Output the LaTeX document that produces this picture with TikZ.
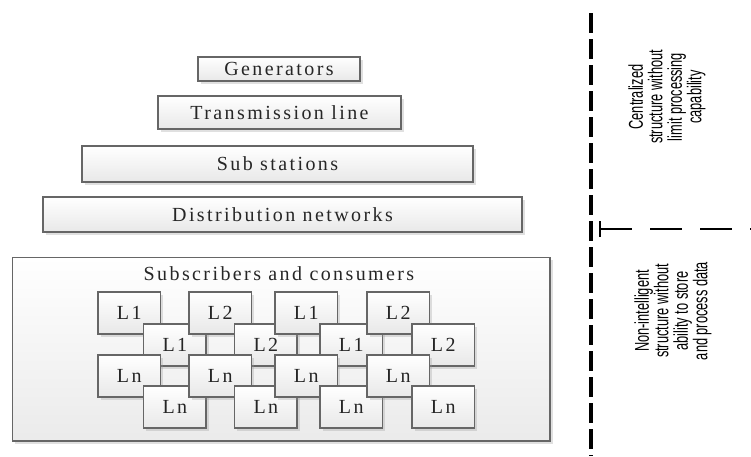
\documentclass[tikz,border=0pt]{standalone}
\usepackage{fontspec}
\setmainfont{Liberation Serif}
\newfontfamily\boxfont[LetterSpace=12]{Liberation Serif}
\newfontfamily\notefont[FakeStretch=0.64]{Liberation Sans}
\newcommand\notesize{\notefont\fontsize{20}{19.5}\selectfont}
\usetikzlibrary{shadows}
\begin{document}
\begin{tikzpicture}[x=1pt,y=-1pt,
  shaded/.style={draw=black!60, line width=1.3pt, top color=white, bottom color=black!9,
    drop shadow={shadow xshift=2.5pt, shadow yshift=-2.5pt, opacity=0.3, fill=black!40}},
  layer/.style={shaded, inner sep=0pt, font=\boxfont\fontsize{20}{24}\selectfont, text=black!85},
  cell/.style={layer, minimum width=62.5pt, minimum height=42pt},
  note/.style={rotate=90, align=center, text=black, font=\notesize},
  divider/.style={draw=black, line width=3.3pt, dash pattern=on 20pt off 6pt},
  splitter/.style={draw=black, line width=2pt, dash pattern=on 32pt off 18pt}
]
\useasboundingbox[fill=white] (0,0) rectangle (751,456);

% hierarchy of the grid, top to bottom
\node[layer, minimum width=162pt, minimum height=24pt] (gen) at (279,69) {Generators};
\node[layer, minimum width=243pt, minimum height=33pt] (trans) at (279.5,112.5) {Transmission line};
\node[layer, minimum width=391pt, minimum height=36pt] (sub) at (277.5,164) {Sub stations};
\node[layer, minimum width=479pt, minimum height=35pt] (dist) at (282.5,214.5) {Distribution networks};

% consumer area with its loads
\node[layer, minimum width=537.5pt, minimum height=183.5pt, top color=white, bottom color=black!8] (cons) at (281.25,349.25) {};
\node[font=\boxfont\fontsize{20}{24}\selectfont, text=black!85] (constitle) at (279,274) {Subscribers and consumers};

\foreach \i/\a/\b/\la in {1/98/143.6/L1, 2/189/234.6/L2, 3/275/320/L1, 4/367/412/L2} {
  \node[cell] (p\i a) at ({\a+31.25},313) {\la};
  \node[cell] (p\i b) at ({\b+31.25},345) {\la};
  \node[cell] (p\i c) at ({\a+31.25},376) {Ln};
  \node[cell] (p\i d) at ({\b+31.25},407) {Ln};
}

% dashed separators on the right
\coordinate (vtop) at (591,13);
\coordinate (vbot) at (591,456);
\draw[divider] (vtop) -- (vbot);
\coordinate (hl) at (600,229);
\coordinate (hr) at (751,229);
\coordinate (tt) at (600,221);
\coordinate (tb) at (600,237);
\draw[draw=black, line width=2pt] (tt) -- (tb);
\draw[splitter] (hl) -- (hr);

% descriptions of the two parts
\node[note] (upper) at (667,97) {\notesize Centralized\\\notesize structure without\\\notesize limit processing\\\notesize capability};
\node[note] (lower) at (673,311) {\notesize Non-intelligent\\\notesize structure without\\\notesize ability to store\\\notesize and process data};
\end{tikzpicture}
\end{document}
